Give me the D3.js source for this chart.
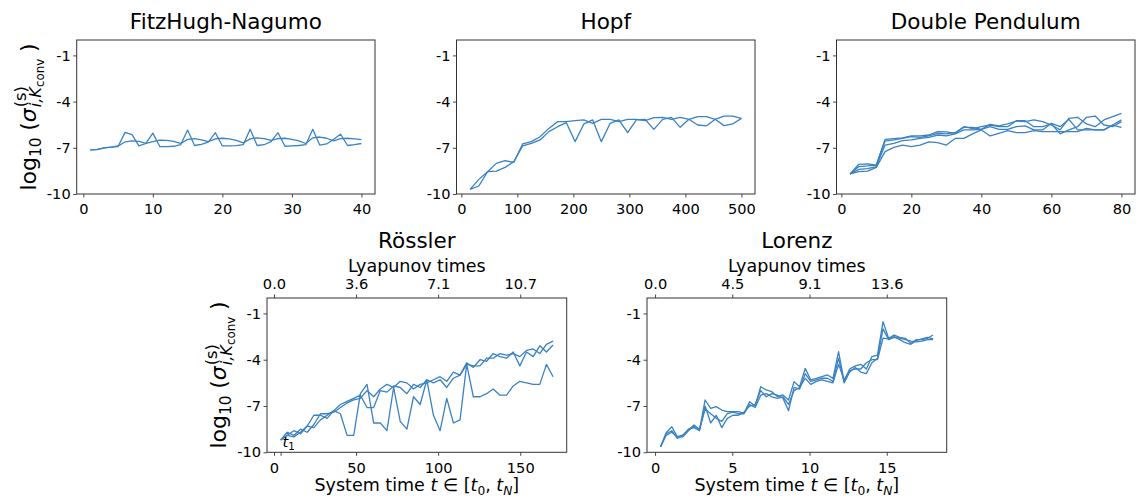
<!DOCTYPE html>
<html>
<head>
<meta charset="utf-8">
<script src="https://cdn.jsdelivr.net/npm/d3@7"></script>
<style>
  body { margin: 0; background: #fff; }
  svg { font-family: "DejaVu Sans", sans-serif; }
</style>
</head>
<body>
<svg id="chart" width="1136" height="496"></svg>
<script>
// ---- shared tick labels ----
const yTickValues = [-1, -4, -7, -10];

// ---- FitzHugh-Nagumo: 40 windows ----
const fhnTime = d3.range(1, 41);
const fhnSeries = [
  [-7.14,-7.10,-7.00,-6.95,-6.88,-6.62,-6.55,-6.58,-6.72,-6.60,-6.50,-6.52,-6.58,-6.72,-6.45,-6.40,-6.48,-6.60,-6.42,-6.38,
   -6.42,-6.52,-6.68,-6.42,-6.35,-6.40,-6.52,-6.40,-6.38,-6.45,-6.55,-6.72,-6.35,-6.30,-6.38,-6.55,-6.40,-6.38,-6.42,-6.47],
  [-7.14,-7.12,-7.00,-6.95,-6.92,-6.00,-6.15,-6.88,-6.72,-6.05,-6.92,-6.92,-6.90,-6.80,-5.85,-6.85,-6.78,-6.62,-6.02,-6.88,
   -6.88,-6.86,-6.80,-5.80,-6.85,-6.80,-6.60,-6.02,-6.90,-6.88,-6.85,-6.80,-5.80,-6.82,-6.75,-6.45,-6.12,-6.85,-6.80,-6.72]
];
const fhnTicks = [0, 10, 20, 30, 40];

// ---- Hopf: 32 windows ----
const hopfTime = d3.range(1, 33).map(k => k * 15.625);
const hopfSeries = [
  [-9.70,-9.05,-8.55,-8.01,-7.84,-7.94,-6.75,-6.60,-6.28,-5.74,-5.30,-5.30,-5.24,-5.19,-5.41,-5.15,
   -5.15,-5.30,-5.15,-5.15,-5.24,-5.04,-5.02,-5.15,-5.02,-5.15,-4.98,-4.98,-5.15,-4.94,-4.94,-5.09],
  [-9.70,-9.48,-8.55,-8.51,-8.27,-7.90,-6.88,-6.71,-6.49,-5.95,-5.63,-5.37,-6.60,-5.45,-5.19,-6.60,
   -5.41,-5.19,-6.02,-5.19,-5.15,-5.80,-5.15,-5.02,-5.67,-5.15,-5.52,-5.58,-5.15,-5.56,-5.45,-5.09]
];
const hopfTicks = [0, 100, 200, 300, 400, 500];

// ---- Double Pendulum: 32 windows ----
const dpTime = d3.range(1, 33).map(k => k * 2.5);
const dpSeries = [
  [-8.70,-8.07,-8.05,-8.12,-6.45,-6.41,-6.36,-6.23,-6.23,-6.17,-5.95,-5.97,-6.06,-5.67,-5.67,-5.80,
   -5.48,-5.58,-5.45,-5.26,-5.30,-5.19,-5.30,-5.52,-5.84,-5.09,-5.02,-5.45,-5.63,-5.19,-4.98,-4.76],
  [-8.70,-8.22,-8.18,-8.12,-6.56,-6.49,-6.39,-6.28,-6.32,-6.23,-6.06,-6.10,-6.02,-5.63,-5.76,-5.63,
   -5.52,-5.63,-5.63,-5.24,-5.24,-5.63,-5.63,-5.45,-6.10,-5.84,-5.63,-5.02,-4.94,-5.52,-5.63,-5.30],
  [-8.70,-8.40,-8.35,-8.22,-6.82,-6.71,-6.54,-6.49,-6.39,-6.32,-6.17,-6.23,-6.10,-5.84,-5.84,-5.80,
   -5.63,-5.80,-5.80,-5.63,-5.58,-5.84,-5.84,-5.41,-5.63,-5.15,-5.84,-5.84,-5.84,-5.84,-5.52,-5.19],
  [-8.70,-8.55,-8.51,-8.27,-7.25,-6.97,-6.82,-6.93,-6.82,-6.62,-6.67,-6.82,-6.39,-6.39,-6.10,-5.84,
   -6.23,-6.06,-5.89,-6.02,-6.02,-5.89,-5.95,-5.95,-5.95,-5.95,-5.95,-5.74,-5.84,-5.84,-5.52,-5.67]
];
const dpTicks = [0, 20, 40, 60, 80];

// ---- Rössler: 42 windows ----
const rosTime = d3.range(1, 43).map(k => k * 170 / 42);
const rosSeries = [
  [-9.2,-8.7,-8.9,-8.5,-8.7,-8.2,-7.5,-7.5,-7.4,-7.1,-6.8,-6.6,-6.5,-6.0,-6.4,-5.9,-5.6,-5.8,-5.4,-5.5,-5.9,
   -5.6,-5.5,-5.3,-5.1,-5.4,-4.8,-5.0,-4.3,-4.4,-4.4,-3.9,-3.9,-3.6,-3.7,-3.6,-3.8,-3.4,-3.3,-3.6,-3.0,-2.8],
  [-9.2,-8.9,-8.6,-8.8,-8.3,-8.4,-7.9,-7.6,-7.3,-6.9,-6.7,-6.5,-6.3,-7.1,-7.1,-6.0,-6.1,-5.7,-5.8,-6.2,-5.6,
   -5.8,-5.3,-5.5,-5.3,-5.8,-5.2,-5.0,-4.2,-4.5,-4.0,-4.1,-3.6,-3.8,-3.9,-3.5,-4.4,-3.5,-3.8,-3.1,-3.5,-3.05],
  [-9.2,-8.9,-9.0,-8.7,-8.3,-7.6,-7.6,-7.8,-7.3,-7.5,-8.9,-8.9,-6.2,-5.6,-8.1,-8.1,-8.6,-5.8,-8.0,-8.5,-6.4,
   -6.9,-5.3,-7.6,-8.6,-6.5,-8.1,-7.9,-4.3,-6.4,-6.4,-6.2,-5.9,-6.3,-6.3,-5.7,-5.4,-5.5,-5.6,-5.6,-4.3,-5.1]
];
const rosTicks = [0, 50, 100, 150];
const rosT1 = rosTime[0];
const rosLyapTicks = [0, 50, 100, 150];
const rosLyapLabels = ["0.0", "3.6", "7.1", "10.7"];

// ---- Lorenz: 50 windows ----
const lorTime = d3.range(1, 51).map(k => k * 0.36);
const lorSeries = [
  [-9.64,-8.73,-8.34,-8.99,-8.88,-8.55,-8.23,-8.55,-6.61,-7.15,-7.04,-7.26,-7.37,-7.37,-7.37,-7.47,-6.72,-7.00,-5.75,-5.96,
   -6.07,-6.39,-6.28,-6.61,-5.42,-5.75,-4.56,-5.31,-5.21,-5.10,-4.99,-5.21,-3.48,-5.40,-4.60,-4.40,-4.30,-4.60,-3.80,-3.70,
   -1.53,-2.61,-2.40,-2.55,-2.61,-2.94,-2.70,-2.70,-2.61,-2.40],
  [-9.64,-8.80,-8.60,-9.10,-8.90,-8.50,-8.40,-8.60,-7.00,-8.10,-7.60,-8.40,-7.80,-7.60,-7.60,-7.40,-7.00,-6.90,-6.00,-6.40,
   -6.20,-6.30,-6.50,-7.30,-5.80,-5.90,-4.90,-5.40,-5.30,-5.20,-5.20,-5.40,-3.90,-5.50,-4.80,-4.50,-4.80,-4.90,-4.20,-3.90,
   -2.00,-2.70,-2.55,-2.60,-2.70,-2.80,-2.85,-2.80,-2.70,-2.70],
  [-9.64,-8.90,-8.70,-9.00,-9.00,-8.60,-8.30,-8.50,-7.20,-7.50,-7.80,-8.00,-7.50,-7.40,-7.50,-7.50,-6.90,-7.10,-6.30,-6.20,
   -6.40,-6.50,-6.40,-6.90,-6.00,-5.80,-5.20,-5.60,-5.40,-5.30,-5.40,-5.50,-4.30,-5.30,-4.70,-4.60,-4.60,-4.20,-4.00,-4.00,
   -2.60,-2.65,-2.50,-2.70,-2.90,-3.00,-2.75,-2.65,-2.55,-2.65]
];
const lorTicks = [0, 5, 10, 15];
const lorLyapTicks = [0, 5, 10, 15];
const lorLyapLabels = ["0.0", "4.5", "9.1", "13.6"];

// ---- drawing ----
const svg = d3.select("#chart");
const LINE_COLOR = "#3a82c3";
const SPINE_COLOR = "#333";
const TICK_FONT = 14.6;
const TITLE_FONT = 21.5;

function styleAxis(sel) {
  sel.select(".domain").remove();
  sel.selectAll(".tick line").attr("stroke", SPINE_COLOR).attr("stroke-width", 0.9);
  sel.selectAll(".tick text").attr("fill", "#000").attr("font-size", TICK_FONT)
     .attr("font-family", "DejaVu Sans");
}

// mathtext-like y label: log10 (σ^{(s)}_{i,K_conv})
function yLabel(cx, cy) {
  const F = 22;
  const g = svg.append("g").attr("transform", `translate(${cx},${cy}) rotate(-90)`);
  const inner = g.append("g");
  let x = 0;
  function put(txt, size, dy, italic) {
    const t = inner.append("text").attr("x", x).attr("y", dy).attr("font-size", size)
      .attr("font-style", italic ? "italic" : "normal").attr("fill", "#000").text(txt);
    return t.node().getComputedTextLength();
  }
  x += put("log", F, 0, false);
  x += put("10", F * 0.7, F * 0.22, false);
  x += F * 0.3;
  x += put("(", F, 0, false);
  x += put("σ", F, 0, true);
  const x0 = x + 1;
  x = x0;
  const supW = put("(s)", F * 0.74, -F * 0.44, false);
  x = x0;
  x += put("i,K", F * 0.74, F * 0.24, true);
  x += put("conv", F * 0.54, F * 0.38, false);
  x = Math.max(x, x0 + supW) + F * 0.3;
  x += put(")", F, 0, false);
  inner.attr("transform", `translate(${-x / 2},0)`);
}

function xLabel(cx, y) {
  const F = 17.5;
  const t = svg.append("text").attr("x", cx).attr("y", y).attr("text-anchor", "middle")
    .attr("font-size", F).attr("fill", "#000");
  t.append("tspan").text("System time ");
  t.append("tspan").attr("font-style", "italic").text("t");
  t.append("tspan").text(" ∈ [");
  t.append("tspan").attr("font-style", "italic").text("t");
  t.append("tspan").attr("font-size", F * 0.7).attr("dy", F * 0.2).text("0");
  t.append("tspan").attr("dy", -F * 0.2).text(", ");
  t.append("tspan").attr("font-style", "italic").text("t");
  t.append("tspan").attr("font-size", F * 0.7).attr("font-style", "italic").attr("dy", F * 0.2).text("N");
  t.append("tspan").attr("dy", -F * 0.2).text("]");
}

function panel(cfg) {
  const { left, right, top, bottom, time, series, ticks, title, titleY } = cfg;
  const ext = d3.extent(time);
  const pad = (ext[1] - ext[0]) * 0.05;
  const x = d3.scaleLinear().domain([ext[0] - pad, ext[1] + pad]).range([left, right]);
  const y = d3.scaleLinear().domain([-10, 0]).range([bottom, top]);
  const g = svg.append("g");

  const line = d3.line().x((d, i) => x(time[i])).y(d => y(d));
  g.append("g").selectAll("path").data(series).join("path")
    .attr("d", line).attr("fill", "none").attr("stroke", LINE_COLOR)
    .attr("stroke-width", 1.3).attr("stroke-linejoin", "round");

  const bottomTicks = cfg.extraTick != null ? ticks.concat([cfg.extraTick]) : ticks;
  g.append("g").attr("transform", `translate(0,${bottom})`)
    .call(d3.axisBottom(x).tickValues(bottomTicks).tickSize(3.5).tickPadding(6.4)
      .tickFormat(d => ticks.includes(d) ? d3.format("d")(d) : ""))
    .call(styleAxis);

  g.append("g").attr("transform", `translate(${left},0)`)
    .call(d3.axisLeft(y).tickValues(yTickValues).tickSize(3.5).tickPadding(2.5)
      .tickFormat(d => String(d)))
    .call(styleAxis);

  if (cfg.lyapTicks) {
    g.append("g").attr("transform", `translate(0,${top})`)
      .call(d3.axisTop(x).tickValues(cfg.lyapTicks).tickSize(3.5).tickPadding(6)
        .tickFormat((d, i) => cfg.lyapLabels[i]))
      .call(styleAxis);
    svg.append("text").attr("x", (left + right) / 2).attr("y", top - 26)
      .attr("text-anchor", "middle").attr("font-size", 17.5).attr("fill", "#000")
      .text("Lyapunov times");
  }

  if (cfg.extraTick != null) {
    const t = g.append("text").attr("x", x(cfg.extraTick) + 2).attr("y", bottom - 5)
      .attr("font-size", TICK_FONT).attr("fill", "#000");
    t.append("tspan").attr("font-style", "italic").text("t");
    t.append("tspan").attr("font-size", TICK_FONT * 0.7).attr("dy", TICK_FONT * 0.2).text("1");
  }

  g.append("rect").attr("x", left).attr("y", top)
    .attr("width", right - left).attr("height", bottom - top)
    .attr("fill", "none").attr("stroke", SPINE_COLOR).attr("stroke-width", 1);

  svg.append("text").attr("x", (left + right) / 2).attr("y", titleY)
    .attr("text-anchor", "middle").attr("font-size", TITLE_FONT).attr("fill", "#000").text(title);

  return { x, y };
}

panel({ left: 76.7, right: 375, top: 40, bottom: 194, time: fhnTime, series: fhnSeries,
        ticks: fhnTicks, title: "FitzHugh-Nagumo", titleY: 29 });
panel({ left: 456.5, right: 755, top: 40, bottom: 194, time: hopfTime, series: hopfSeries,
        ticks: hopfTicks, title: "Hopf", titleY: 29 });
panel({ left: 836.5, right: 1135, top: 40, bottom: 194, time: dpTime, series: dpSeries,
        ticks: dpTicks, title: "Double Pendulum", titleY: 29 });
panel({ left: 267, right: 566.7, top: 298, bottom: 452.3, time: rosTime, series: rosSeries,
        ticks: rosTicks, title: "Rössler", titleY: 248, extraTick: rosT1,
        lyapTicks: rosLyapTicks, lyapLabels: rosLyapLabels });
panel({ left: 647, right: 946.7, top: 298, bottom: 452.3, time: lorTime, series: lorSeries,
        ticks: lorTicks, title: "Lorenz", titleY: 248,
        lyapTicks: lorLyapTicks, lyapLabels: lorLyapLabels });

yLabel(36, 117);
yLabel(226.3, 375);
xLabel((267 + 566.7) / 2, 491);
xLabel((647 + 946.7) / 2, 491);
</script>
</body>
</html>
